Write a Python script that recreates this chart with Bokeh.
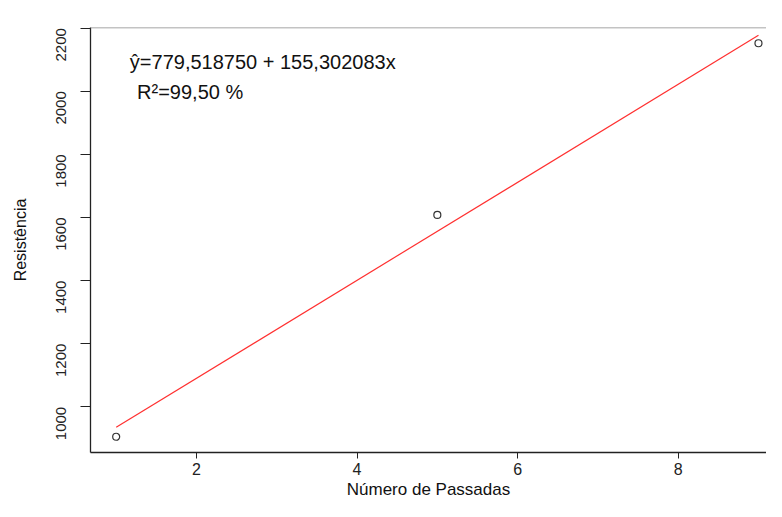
import math
from bokeh.plotting import figure
from bokeh.models import FixedTicker, Label, Range1d, Span
from bokeh.embed import file_html
from bokeh.resources import INLINE

# ---- data ----
x_passadas = [1, 5, 9]
resistencia = [905, 1608, 2152]
intercept = 779.518750
slope = 155.302083
eq_text = "ŷ=779,518750 + 155,302083x"
r2_text = "R²=99,50 %"
x_ticks = [2, 4, 6, 8]
y_ticks = [1000, 1200, 1400, 1600, 1800, 2000, 2200]
x_label = "Número de Passadas"
y_label = "Resistência"

FONT = "Liberation Sans"

# R-like 4% range extension
xr = max(x_passadas) - min(x_passadas)
yr = max(resistencia) - min(resistencia)
x_start = min(x_passadas) - 0.04 * xr
y_start = min(resistencia) - 0.04 * yr
y_end = max(resistencia) + 0.04 * yr
# only part of the right margin is visible (reference is cropped)
x_end = max(x_passadas) + 0.1

p = figure(width=766, height=501, output_backend="svg", toolbar_location=None,
           x_range=Range1d(x_start, x_end), y_range=Range1d(y_start, y_end),
           min_border_left=90, min_border_top=27, min_border_bottom=40,
           min_border_right=0, background_fill_color="white",
           border_fill_color="white")

p.grid.visible = False
p.outline_line_color = None
# top edge of the box
p.add_layout(Span(location=p.y_range.end, dimension="width",
                  line_color="#888888", line_width=1.5))

# regression line from the fitted coefficients
fx = [min(x_passadas), max(x_passadas)]
fy = [intercept + slope * v for v in fx]
p.line(fx, fy, line_color="#ff3030", line_width=1.2)

# observed points
p.scatter(x_passadas, resistencia, marker="circle", size=7,
          fill_color=None, line_color="#333333", line_width=1.2)

# axes
p.xaxis.ticker = FixedTicker(ticks=x_ticks)
p.yaxis.ticker = FixedTicker(ticks=y_ticks)
p.xaxis.minor_tick_line_color = None
p.yaxis.minor_tick_line_color = None
p.xaxis.major_tick_in = 0
p.yaxis.major_tick_in = 0
p.xaxis.major_tick_out = 6
p.yaxis.major_tick_out = 10
for ax in (p.xaxis, p.yaxis):
    ax.axis_line_color = "#222222"
    ax.axis_line_width = 1.3
    ax.major_tick_line_color = "#222222"
    ax.major_label_text_font = FONT
    ax.major_label_text_color = "#222222"
    ax.axis_label_text_font = FONT
    ax.axis_label_text_font_style = "normal"
    ax.axis_label_text_color = "#111111"

p.xaxis.major_label_text_font_size = "16px"
p.yaxis.major_label_text_font_size = "15px"
p.yaxis.major_label_orientation = math.pi / 2
p.xaxis.major_label_standoff = 4
p.yaxis.major_label_standoff = 19
p.xaxis.axis_label = x_label
p.yaxis.axis_label = y_label
p.xaxis.axis_label_text_font_size = "17px"
p.yaxis.axis_label_text_font_size = "16px"
p.xaxis.axis_label_standoff = 2
p.yaxis.axis_label_standoff = 20

# annotation texts
p.add_layout(Label(x=1.17, y=2094, text=eq_text, text_font=FONT,
                   text_font_size="20px", text_baseline="middle",
                   text_align="left", text_color="#111111"))
p.add_layout(Label(x=1.26, y=1998, text=r2_text, text_font=FONT,
                   text_font_size="20px", text_baseline="middle",
                   text_align="left", text_color="#111111"))

open("out.html", "w").write(file_html(p, INLINE))
